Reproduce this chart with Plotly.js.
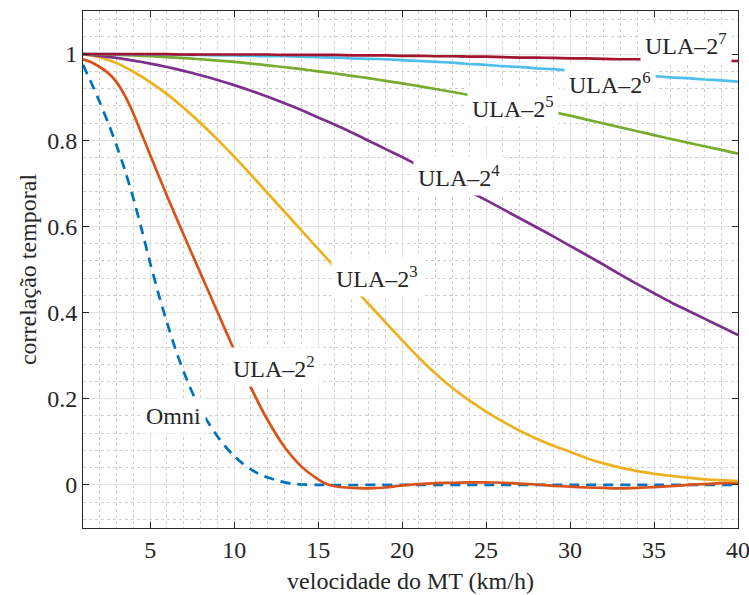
<!DOCTYPE html>
<html>
<head>
<meta charset="utf-8">
<script src="https://cdn.plot.ly/plotly-3.0.1.min.js"></script>
<style>
  html, body { margin: 0; padding: 0; background: #ffffff; }
  #chart { width: 749px; height: 595px; }
</style>
</head>
<body>
<div id="chart"></div>
<script>
// Temporal correlation versus terminal speed, omni antenna and ULAs of 2^2..2^7 elements
const seriesNames = ['Omni', 'ULA–2<sup>2</sup>', 'ULA–2<sup>3</sup>', 'ULA–2<sup>4</sup>',
                     'ULA–2<sup>5</sup>', 'ULA–2<sup>6</sup>', 'ULA–2<sup>7</sup>'];

const speedInt = [1,2,3,4,5,6,7,8,9,10,11,12,13,14,15,16,17,18,19,20,
                  21,22,23,24,25,26,27,28,29,30,31,32,33,34,35,36,37,38,39,40];

const omniSpeed = [1,1.5,2,2.5,3,3.5,4,4.5,5,5.5,6,6.5,7,7.5,8,8.5,9,9.5,10,10.5,
                   11,11.5,12,12.5,13,13.5,14,15,20,25,30,35,40];
const omniCorr  = [0.975,0.933,0.888,0.84,0.788,0.73,0.665,0.592,0.515,0.443,0.377,0.316,0.262,0.215,
                   0.175,0.142,0.113,0.088,0.067,0.05,0.036,0.025,0.017,0.011,0.006,0.003,0.001,0,0,0,0,0,0];

const ula4Speed = [1,1.5,2,2.5,3,3.5,4,4.5,5,6,7,8,9,10,11,12,13,14,15,15.5,16,17,18,19,20,
                   21,22,23,24,25,26,27,28,29,30,31,32,33,34,35,36,37,38,39,40];
const ula4Corr  = [0.988,0.981,0.97,0.956,0.935,0.903,0.862,0.814,0.766,0.671,0.58,0.491,0.402,0.313,0.226,
                   0.15,0.088,0.043,0.013,0.002,
                   -0.003,-0.007,-0.008,-0.006,-0.001,0.002,0.004,0.005,0.006,0.006,0.005,0.003,0.001,-0.002,
                   -0.004,-0.006,-0.007,-0.008,-0.007,-0.005,-0.003,0,0.002,0.004,0.005];

const ula8Corr  = [1.0,0.993,0.979,0.959,0.935,0.907,0.875,0.84,0.802,0.762,0.72,0.677,0.634,0.591,0.548,
                   0.505,0.462,0.42,0.378,0.336,0.295,0.258,0.225,0.196,0.17,0.147,0.126,0.107,0.091,0.077,
                   0.062,0.05,0.04,0.032,0.026,0.021,0.017,0.013,0.011,0.009];

const ula16Corr = [1.0,0.996,0.991,0.985,0.978,0.97,0.961,0.951,0.94,0.928,0.915,0.901,0.886,0.87,0.853,
                   0.836,0.818,0.799,0.78,0.761,0.741,0.721,0.701,0.681,0.661,0.64,0.619,0.598,0.577,0.555,
                   0.533,0.511,0.488,0.466,0.445,0.424,0.405,0.386,0.367,0.348];

const ula32Corr = [1.0,0.9995,0.9985,0.997,0.995,0.993,0.9905,0.988,0.985,0.982,0.978,0.974,0.9695,0.965,0.96,
                   0.955,0.9495,0.944,0.938,0.932,0.9255,0.919,0.912,0.905,0.8975,0.89,0.882,0.874,0.8655,0.857,
                   0.848,0.839,0.83,0.821,0.812,0.803,0.7945,0.786,0.7775,0.769];

const ula64Corr = [1.0,1.0,1.0,0.999,0.999,0.999,0.998,0.998,0.997,0.997,0.996,0.995,0.995,0.994,0.993,
                   0.992,0.99,0.989,0.988,0.986,0.984,0.982,0.98,0.977,0.975,0.972,0.97,0.967,0.965,0.962,
                   0.96,0.957,0.954,0.952,0.949,0.946,0.944,0.941,0.939,0.936];

const ula128Corr = [1.0,1.0,1.0,1.0,1.0,1.0,0.999,0.999,0.999,0.999,0.999,0.999,0.998,0.998,0.998,
                    0.998,0.997,0.997,0.997,0.996,0.996,0.995,0.995,0.994,0.994,0.993,0.992,0.992,0.991,0.99,
                    0.99,0.989,0.988,0.988,0.987,0.986,0.986,0.985,0.985,0.984];

const xTicks = [5,10,15,20,25,30,35,40];
const yTicks = [0,0.2,0.4,0.6,0.8,1];
const yTickText = ['0','0.2','0.4','0.6','0.8','1'];

const colors = ['#0072BD','#D95319','#EDB120','#7E2F8E','#77AC30','#4DBEEE','#A2142F'];
const FONT = "'Liberation Serif', 'DejaVu Serif', serif";
const FSIZE = 24;
const INK = '#262626';

const xs = [omniSpeed, ula4Speed, speedInt, speedInt, speedInt, speedInt, speedInt];
const ys = [omniCorr, ula4Corr, ula8Corr, ula16Corr, ula32Corr, ula64Corr, ula128Corr];

const traces = ys.map((y, i) => ({
  type: 'scatter', mode: 'lines', name: seriesNames[i],
  x: xs[i], y: y,
  line: { color: colors[i], width: 2.7, shape: 'spline', smoothing: 0.7,
          dash: i === 0 ? '10px,7px' : 'solid' },
  hoverinfo: 'skip'
}));

// inline curve labels on white boxes that break the lines
const labelAt = [[6.37,0.16],[12.4,0.274],[18.5,0.483],[23.4,0.717],[26.6,0.877],[32.4,0.933],[36.9,1.023]];
const annotations = seriesNames.map((t, i) => ({
  x: labelAt[i][0], y: labelAt[i][1], xref: 'x', yref: 'y',
  text: t, showarrow: false, bgcolor: '#ffffff', borderpad: 4,
  font: { family: FONT, size: FSIZE, color: INK }
}));

const axisCommon = {
  showline: true, linecolor: INK, linewidth: 1, mirror: 'ticks',
  ticks: 'inside', ticklen: 6, tickcolor: INK, tickwidth: 1,
  showgrid: true, gridcolor: '#e3e3e3', gridwidth: 1,
  zeroline: false, ticklabeloverflow: 'allow',
  tickfont: { family: FONT, size: FSIZE, color: INK }
};

const layout = {
  width: 749, height: 595,
  paper_bgcolor: '#ffffff', plot_bgcolor: '#ffffff',
  margin: { l: 83, r: 11, t: 11, b: 67 },
  showlegend: false,
  font: { family: FONT, size: FSIZE, color: INK },
  xaxis: Object.assign({}, axisCommon, {
    range: [1, 40], tickvals: xTicks,
    minor: { dtick: 1, tick0: 0, showgrid: true, gridcolor: '#d0d0d0', griddash: 'dot', gridwidth: 1, ticklen: 0 },
    title: { text: 'velocidade do MT (km/h)', font: { family: FONT, size: FSIZE, color: INK }, standoff: 10 }
  }),
  yaxis: Object.assign({}, axisCommon, {
    range: [-0.1, 1.1], tickvals: yTicks, ticktext: yTickText,
    minor: { dtick: 0.04, tick0: 0, showgrid: true, gridcolor: '#d0d0d0', griddash: 'dot', gridwidth: 1, ticklen: 0 },
    title: { text: 'correlação temporal', font: { family: FONT, size: FSIZE, color: INK }, standoff: 3 }
  }),
  annotations: annotations
};

Plotly.newPlot('chart', traces, layout, { displayModeBar: false, staticPlot: true });
</script>
</body>
</html>
